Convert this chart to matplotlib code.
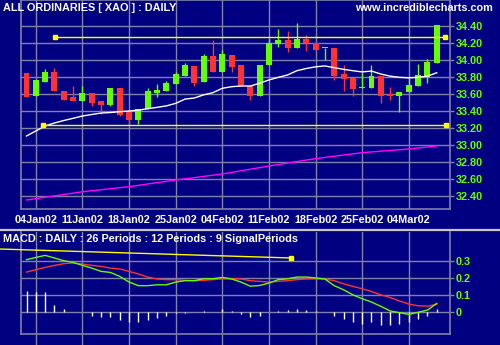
import numpy as np
import matplotlib
matplotlib.use("Agg")
import matplotlib.pyplot as plt
from matplotlib.lines import Line2D

# =========================================================
# DATA
# =========================================================
opens = [33.85, 33.58, 33.745, 33.86, 33.64, 33.56, 33.52, 33.61, 33.52, 33.47,
         33.67, 33.39, 33.29, 33.42, 33.615, 33.635, 33.72, 33.81, 33.93, 33.745,
         34.05, 33.86, 34.06, 33.94, 33.69, 33.58, 33.94, 34.185, 34.235, 34.145,
         34.245, 34.196, 34.138, 34.145, 33.835, 33.79, 33.667, 33.667, 33.81, 33.596,
         33.58, 33.62, 33.70, 33.796, 33.968]
closes = [33.57, 33.76, 33.86, 33.64, 33.53, 33.52, 33.61, 33.50, 33.47, 33.67,
          33.35, 33.29, 33.42, 33.635, 33.65, 33.73, 33.835, 33.94, 33.73, 34.05,
          33.86, 34.07, 33.92, 33.69, 33.58, 33.94, 34.20, 34.235, 34.14, 34.245,
          34.196, 34.118, 34.145, 33.81, 33.776, 33.655, 33.679, 33.81, 33.58, 33.58,
          33.62, 33.706, 33.824, 33.98, 34.41]
highs = [33.85, 33.76, 33.89, 33.91, 33.64, 33.69, 33.69, 33.61, 33.52, 33.67,
         33.67, 33.39, 33.42, 33.67, 33.72, 33.755, 33.86, 33.965, 33.93, 34.07,
         34.235, 34.12, 34.06, 33.94, 33.69, 33.94, 34.245, 34.37, 34.34, 34.435,
         34.294, 34.196, 34.145, 34.145, 33.94, 33.79, 33.85, 33.94, 33.81, 33.68,
         33.62, 33.785, 33.953, 34.01, 34.41]
lows = [33.56, 33.58, 33.745, 33.64, 33.53, 33.52, 33.52, 33.46, 33.37, 33.46,
        33.345, 33.23, 33.25, 33.42, 33.57, 33.635, 33.72, 33.81, 33.70, 33.745,
        33.86, 33.86, 33.86, 33.69, 33.53, 33.58, 33.94, 34.155, 34.10, 34.145,
        34.106, 34.118, 34.00, 33.765, 33.64, 33.58, 33.667, 33.667, 33.494, 33.53,
        33.385, 33.62, 33.70, 33.726, 33.968]

ma_short = [33.106, 33.165, 33.224, 33.259, 33.288, 33.314, 33.341, 33.359, 33.376, 33.382,
            33.392, 33.40, 33.41, 33.427, 33.443, 33.46, 33.49, 33.54, 33.553, 33.59,
            33.616, 33.667, 33.686, 33.694, 33.694, 33.726, 33.765, 33.796, 33.824, 33.874,
            33.90, 33.92, 33.93, 33.91, 33.89, 33.874, 33.86, 33.87, 33.835, 33.81,
            33.796, 33.79, 33.796, 33.81, 33.85]

ma_long_idx = [0, 6, 11, 16, 21, 26, 31, 36, 41, 44]
ma_long = [32.353, 32.45, 32.51, 32.588, 32.659, 32.753, 32.84, 32.91, 32.953, 32.988]

# user trendlines (day index, price)
trend_hi_x = [3.06, 44.9]
trend_hi_y = [34.267, 34.267]
trend_lo_x = [1.8, 45.0]
trend_lo_y = [33.235, 33.235]

macd = [0.306, 0.319, 0.331, 0.316, 0.30, 0.29, 0.273, 0.257, 0.238, 0.232,
        0.209, 0.176, 0.155, 0.155, 0.16, 0.16, 0.176, 0.184, 0.184, 0.195,
        0.195, 0.203, 0.194, 0.176, 0.152, 0.156, 0.170, 0.19, 0.195, 0.205,
        0.205, 0.20, 0.194, 0.155, 0.131, 0.102, 0.079, 0.06, 0.035, 0.008,
        -0.002, -0.012, 0.0, 0.013, 0.052]
signal = [0.234, 0.248, 0.261, 0.273, 0.283, 0.287, 0.281, 0.273, 0.267, 0.257,
          0.252, 0.238, 0.223, 0.205, 0.194, 0.19, 0.19, 0.186, 0.184, 0.186,
          0.19, 0.195, 0.195, 0.194, 0.184, 0.18, 0.176, 0.18, 0.184, 0.19,
          0.194, 0.195, 0.194, 0.184, 0.166, 0.151, 0.137, 0.121, 0.102, 0.086,
          0.066, 0.048, 0.038, 0.036, 0.046]
hist = [0.126, 0.12, 0.12, 0.042, 0.019, 0.003, 0.0, -0.02, -0.026, -0.026,
        -0.045, -0.055, -0.055, -0.045, -0.031, -0.02, -0.003, -0.003, 0.0, 0.01,
        0.002, 0.017, 0.01, -0.008, -0.026, -0.02, 0.0, 0.01, 0.015, 0.019,
        0.013, 0.007, 0.002, -0.02, -0.039, -0.055, -0.068, -0.058, -0.074, -0.074,
        -0.068, -0.055, -0.041, -0.02, 0.019]
macd_trend_x = [-2.84, 28.36]
macd_trend_y = [0.368, 0.316]

date_idx = [1, 6, 11, 16, 21, 26, 31, 36, 41]
date_labels = ["04Jan02", "11Jan02", "18Jan02", "25Jan02", "04Feb02",
               "11Feb02", "18Feb02", "25Feb02", "04Mar02"]
price_ticks = [32.40, 32.60, 32.80, 33.00, 33.20, 33.40, 33.60, 33.80, 34.00, 34.20, 34.40]
macd_ticks = [0, 0.1, 0.2, 0.3]
macd_tick_labels = ["0", "0.1", "0.2", "0.3"]

# =========================================================
# STYLE
# =========================================================
BG = "#000080"
GRID = "#8080A8"
GREEN = "#66FF00"
RED = "#FF3333"
YELLOW = "#FFFF00"
FONT = dict(family="Liberation Sans", weight="bold", size=7.8)

plt.rcParams["font.family"] = "Liberation Sans"
plt.rcParams["font.weight"] = "bold"

fig = plt.figure(figsize=(5, 3.45), dpi=100, facecolor=BG)
W, H = 500.0, 345.0

ax1 = fig.add_axes([21 / W, (H - 209) / H, (450 - 21) / W, 209 / H], facecolor=BG)
ax2 = fig.add_axes([21 / W, (H - 334) / H, (450 - 21) / W, (334 - 232) / H], facecolor=BG)

x = np.arange(len(opens))
xlim = (-0.59, 45.42)

# =========================================================
# PRICE PANEL
# =========================================================
o = np.array(opens)
c = np.array(closes)
up = c >= o
cols = [GREEN if u else RED for u in up]
ax1.vlines(x, lows, highs, colors=cols, linewidth=1.0, zorder=3)
body_bottom = np.minimum(o, c)
body_h = np.maximum(np.abs(c - o), 0.012)
ax1.bar(x, body_h, bottom=body_bottom, width=0.64, color=cols, linewidth=0, zorder=4)

ax1.plot(x, ma_short, color="white", lw=1.0, zorder=5)
ax1.plot(ma_long_idx, ma_long, color="#FF00FF", lw=1.0, zorder=5)

for tx, ty in [(trend_hi_x, trend_hi_y), (trend_lo_x, trend_lo_y)]:
    ax1.plot(tx, ty, color=YELLOW, lw=1.0, zorder=6)
    ax1.plot(tx, ty, ls="none", marker="s", ms=3.2, color=YELLOW, zorder=7)

ax1.set_xlim(*xlim)
ax1.set_ylim(32.247, 34.706)
ax1.set_yticks(price_ticks)
ax1.set_yticklabels(["%.2f" % v for v in price_ticks], fontdict=FONT, color=GREEN)
ax1.yaxis.tick_right()
ax1.tick_params(axis="y", length=3, width=1, color=GRID, pad=1)
ax1.set_xticks(date_idx)
ax1.set_xticklabels(date_labels, fontdict=FONT, color="white")
ax1.tick_params(axis="x", length=0, pad=4.5)
ax1.grid(True, color=GRID, lw=1.0, zorder=0)
ax1.set_axisbelow(True)
for s in ax1.spines.values():
    s.set_color(GRID)
    s.set_linewidth(1.2)

# =========================================================
# MACD PANEL
# =========================================================
ax2.vlines(x, 0, hist, colors="white", linewidth=1.0, zorder=3)
ax2.plot(x, signal, color=RED, lw=1.0, zorder=4)
ax2.plot(x, macd, color=GREEN, lw=1.0, zorder=5)
ax2.plot(macd_trend_x, macd_trend_y, color=YELLOW, lw=1.0, clip_on=False, zorder=6)
ax2.plot(macd_trend_x[1:], macd_trend_y[1:], ls="none", marker="s", ms=3.2,
         color=YELLOW, clip_on=False, zorder=7)

ax2.set_xlim(*xlim)
ax2.set_ylim(-0.126, 0.467)
ax2.set_yticks(macd_ticks)
ax2.set_yticklabels(macd_tick_labels, fontdict=FONT, color=GREEN)
ax2.yaxis.tick_right()
ax2.tick_params(axis="y", length=3, width=1, color=GRID, pad=1)
ax2.set_xticks(date_idx)
ax2.set_xticklabels([])
ax2.tick_params(axis="x", direction="out", length=8, width=1, color=GRID)
ax2.grid(True, color=GRID, lw=1.0, zorder=0)
ax2.set_axisbelow(True)
for s in ax2.spines.values():
    s.set_color(GRID)
    s.set_linewidth(1.2)
ax2.spines["top"].set_visible(False)

# =========================================================
# TEXT + SEPARATOR
# =========================================================
fig.add_artist(Line2D([0, 1], [1 - 230 / H, 1 - 230 / H], color="#C8C8C8", lw=1.6))
fig.text(3 / W, 1 - 11 / H, "ALL ORDINARIES [ XAO ] : DAILY", color="white",
         va="baseline", ha="left", **FONT)
fig.text(493 / W, 1 - 11 / H, "www.incrediblecharts.com", color="white",
         va="baseline", ha="right", **FONT)
fig.text(3 / W, 1 - 242.5 / H, "MACD : DAILY : 26 Periods : 12 Periods : 9 SignalPeriods",
         color="white", va="baseline", ha="left", **FONT)

fig.savefig("out.png", dpi=100, facecolor=BG)
